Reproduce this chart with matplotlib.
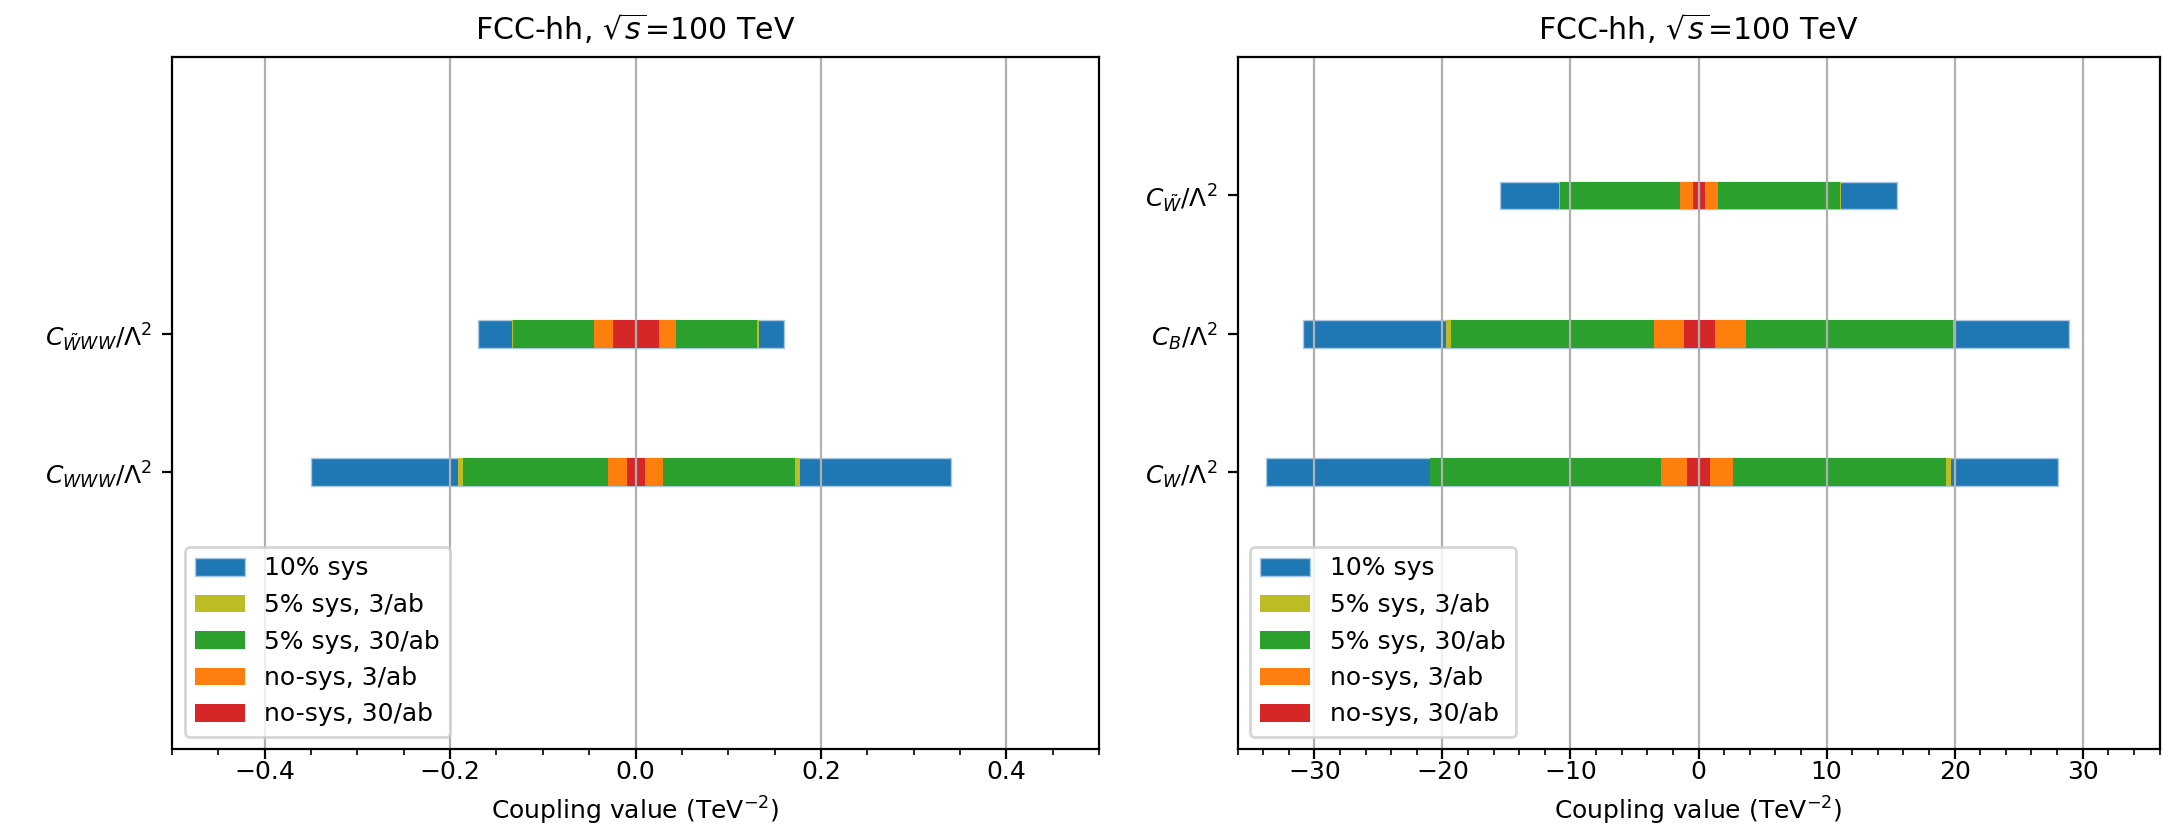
import matplotlib
matplotlib.use("Agg")
import matplotlib.pyplot as plt
from matplotlib.ticker import MultipleLocator

plt.rcParams['font.size'] = 9

# ---------------- data ----------------
title = r"FCC-hh, $\sqrt{s}$=100 TeV"
xlabel = r"Coupling value (TeV$^{-2}$)"
series_labels = ["10% sys", "5% sys, 3/ab", "5% sys, 30/ab", "no-sys, 3/ab", "no-sys, 30/ab"]
series_colors = ["#1f77b4", "#bcbd22", "#2ca02c", "#ff7f0e", "#d62728"]

# left panel (bottom to top)
left_cats = [r"$C_{WWW}/\Lambda^2$", r"$C_{\tilde{W}WW}/\Lambda^2$"]
left_sys10_lo = [-0.350, -0.170]
left_sys10_hi = [0.340, 0.160]
left_sys5_3_lo = [-0.191, -0.133]
left_sys5_3_hi = [0.177, 0.133]
left_sys5_30_lo = [-0.186, -0.132]
left_sys5_30_hi = [0.1725, 0.131]
left_nosys3_lo = [-0.0294, -0.0448]
left_nosys3_hi = [0.0299, 0.0439]
left_nosys30_lo = [-0.0096, -0.0246]
left_nosys30_hi = [0.0106, 0.0255]

# right panel (bottom to top)
right_cats = [r"$C_{W}/\Lambda^2$", r"$C_{B}/\Lambda^2$", r"$C_{\tilde{W}}/\Lambda^2$"]
right_sys10_lo = [-33.8, -30.9, -15.5]
right_sys10_hi = [28.1, 28.9, 15.5]
right_sys5_3_lo = [-21.0, -19.7, -10.9]
right_sys5_3_hi = [19.75, 19.95, 11.15]
right_sys5_30_lo = [-20.95, -19.3, -10.8]
right_sys5_30_hi = [19.3, 19.9, 11.05]
right_nosys3_lo = [-2.9, -3.5, -1.43]
right_nosys3_hi = [2.68, 3.68, 1.5]
right_nosys30_lo = [-0.9, -1.1, -0.43]
right_nosys30_hi = [0.88, 1.26, 0.52]

left_series = [(left_sys10_lo, left_sys10_hi), (left_sys5_3_lo, left_sys5_3_hi),
               (left_sys5_30_lo, left_sys5_30_hi), (left_nosys3_lo, left_nosys3_hi),
               (left_nosys30_lo, left_nosys30_hi)]
right_series = [(right_sys10_lo, right_sys10_hi), (right_sys5_3_lo, right_sys5_3_hi),
                (right_sys5_30_lo, right_sys5_30_hi), (right_nosys3_lo, right_nosys3_hi),
                (right_nosys30_lo, right_nosys30_hi)]

fig = plt.figure(figsize=(2163 / 200, 824 / 200), dpi=200)
ax1 = fig.add_axes([172 / 2163, 75 / 824, 927 / 2163, 692 / 824])
ax2 = fig.add_axes([1237.5 / 2163, 75 / 824, 922 / 2163, 692 / 824])


def draw(ax, cats, series, xlim, minor, xticks):
    ypos = list(range(1, len(cats) + 1))
    for i, ((lo, hi), lab, col) in enumerate(zip(series, series_labels, series_colors)):
        widths = [h - l for l, h in zip(lo, hi)]
        if i == 0:
            ax.barh(ypos, widths, left=lo, height=0.2, color=col, label=lab,
                    edgecolor="#a9c8e4", linewidth=0.5)
        else:
            ax.barh(ypos, widths, left=lo, height=0.2, color=col, label=lab,
                    linewidth=0)
    ax.set_yticks(ypos)
    ax.set_yticklabels(cats)
    ax.set_ylim(-1, 4)
    ax.set_xlim(*xlim)
    ax.set_xticks(xticks)
    ax.xaxis.set_minor_locator(MultipleLocator(minor))
    ax.tick_params(axis="x", which="major", pad=0.3)
    ax.grid(True, axis="x", which="major", color="#b0b0b0", linewidth=0.8)
    ax.set_title(title)
    ax.set_xlabel(xlabel)
    ax.legend(loc="lower left")


draw(ax1, left_cats, left_series, (-0.5, 0.5), 0.05, [-0.4, -0.2, 0.0, 0.2, 0.4])
draw(ax2, right_cats, right_series, (-36, 36), 2, [-30, -20, -10, 0, 10, 20, 30])

fig.savefig("out.png", dpi=200)
